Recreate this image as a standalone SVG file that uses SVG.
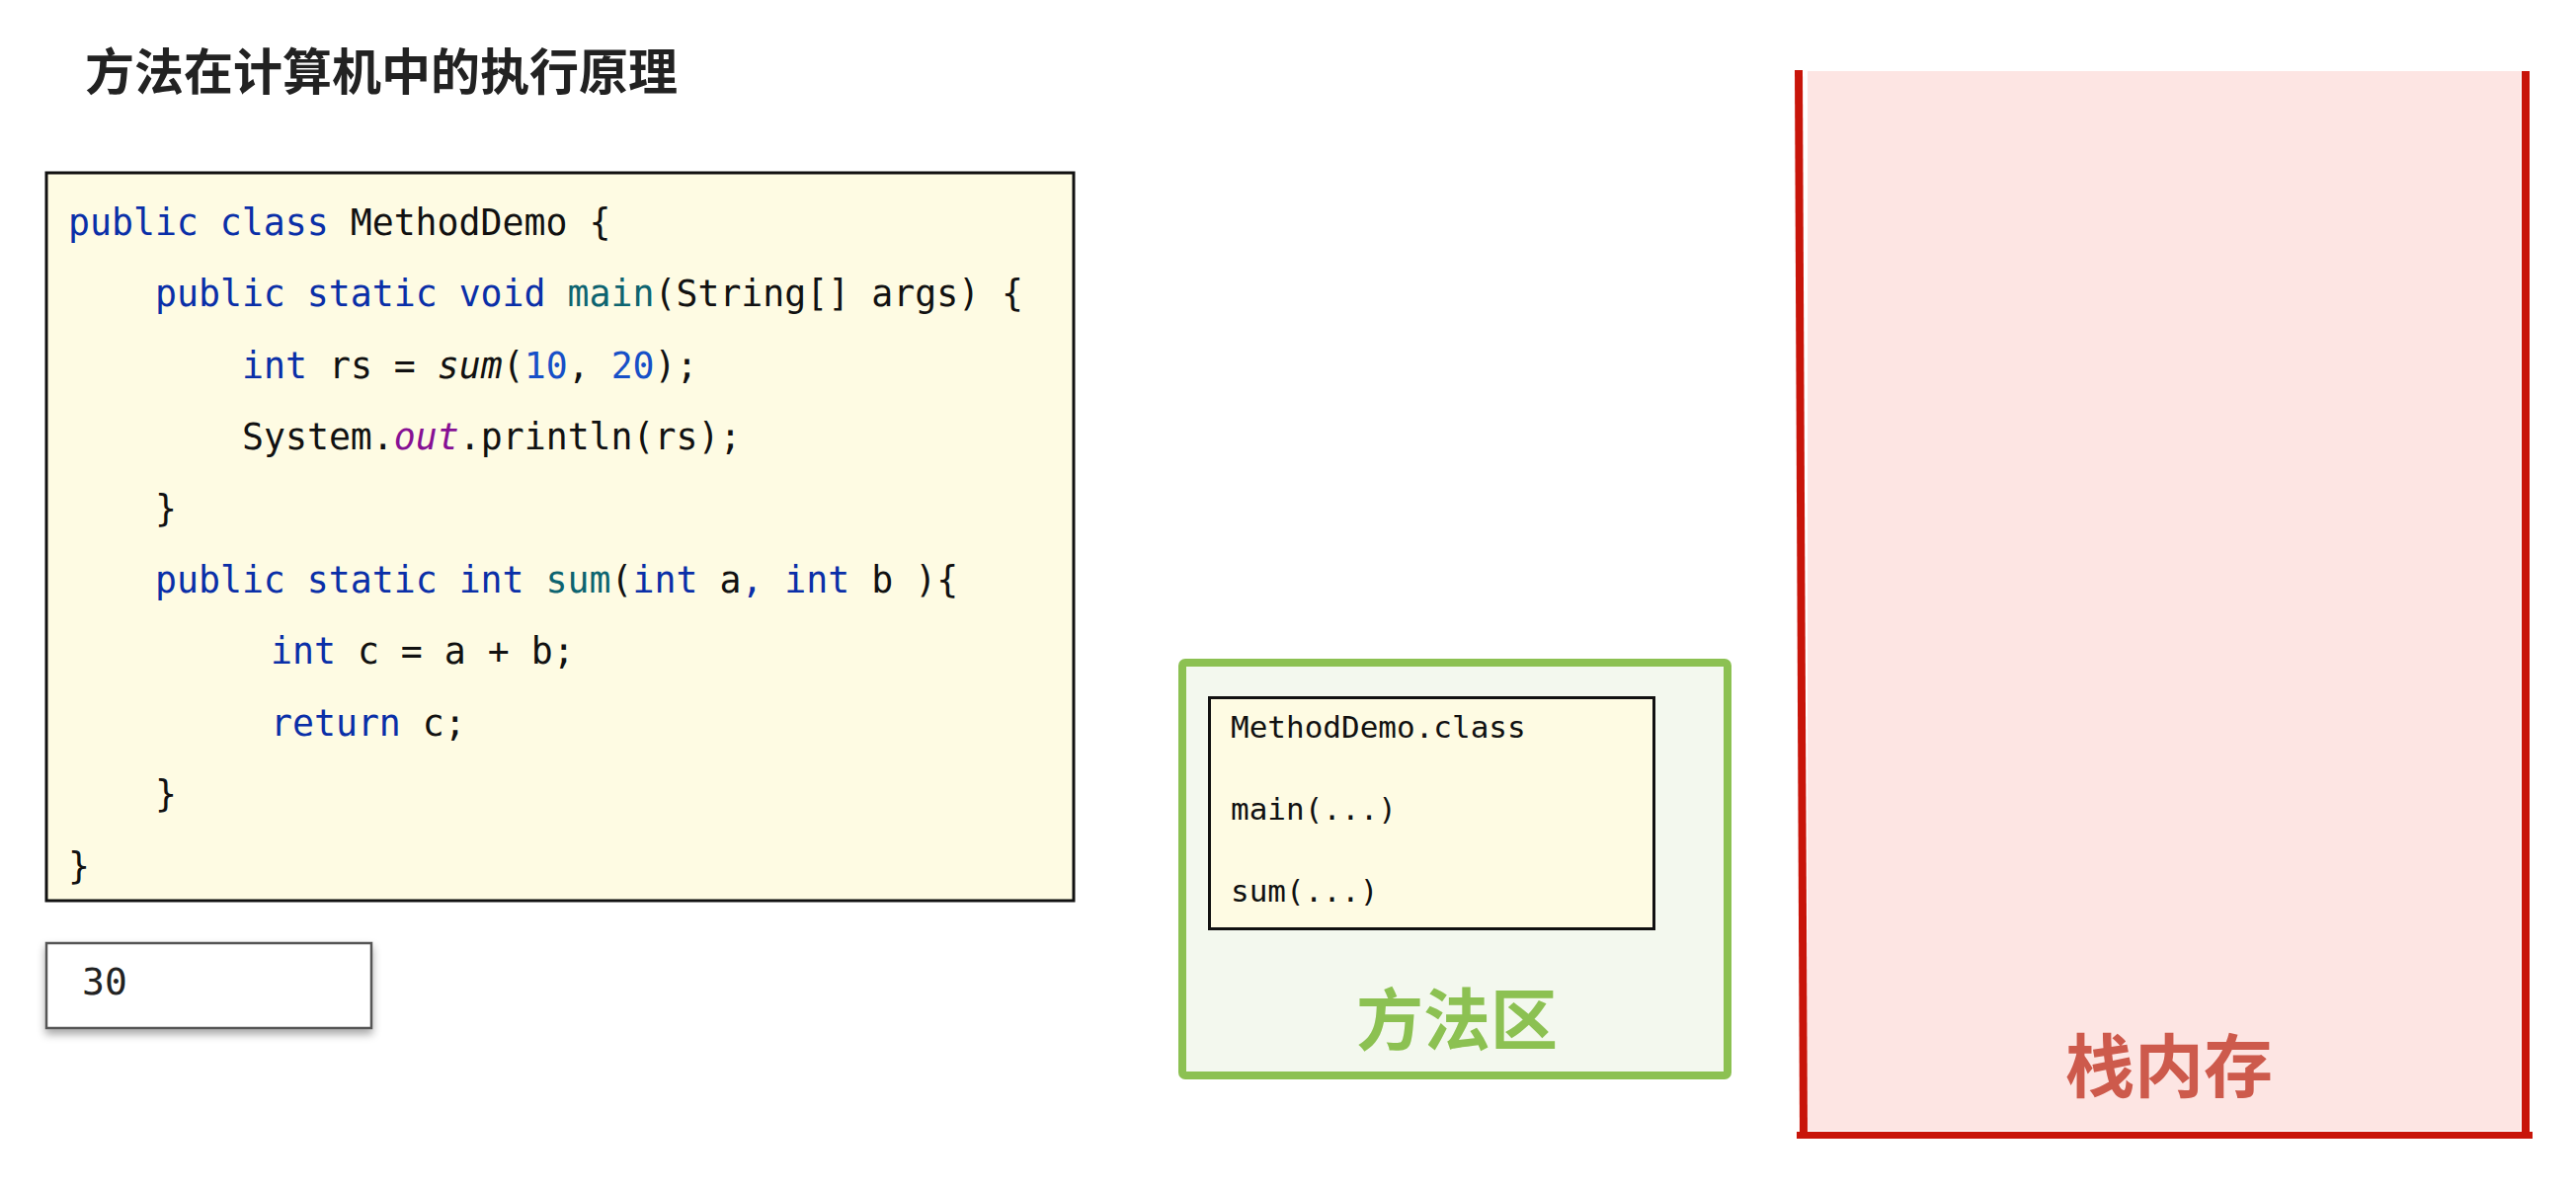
<svg xmlns="http://www.w3.org/2000/svg" width="2608" height="1206" viewBox="0 0 2608 1206">
<defs>
<style>
.code{font-family:"DejaVu Sans Mono","Liberation Mono",monospace;font-size:36.5px;fill:#111;}
.kw{fill:#0a2fa8;}
.fn{fill:#0d6470;}
.num{fill:#1750c8;}
.st{fill:#871094;font-style:italic;}
.it{font-style:italic;}
.mono{font-family:"DejaVu Sans Mono","Liberation Mono",monospace;font-size:31px;fill:#111;}
.cjk{font-family:"Noto Sans CJK SC","Noto Sans",sans-serif;font-weight:bold;}
</style>
<filter id="sh" x="-10%" y="-20%" width="120%" height="160%">
<feDropShadow dx="0" dy="5" stdDeviation="4" flood-color="#000" flood-opacity="0.35"/>
</filter>
</defs>
<rect width="2608" height="1206" fill="#ffffff"/>

<g id="title">
<text class="cjk" x="86" y="91" font-size="50" fill="#222">方法在计算机中的执行原理</text>
</g>

<g id="code">
<rect x="47" y="175" width="1040" height="737" fill="#fefbe3" stroke="#111" stroke-width="3"/>
<text class="code" x="69" y="238"><tspan class="kw">public class</tspan> MethodDemo {</text>
<text class="code" x="157" y="310"><tspan class="kw">public static void</tspan> <tspan class="fn">main</tspan>(String[] args) {</text>
<text class="code" x="245" y="383"><tspan class="kw">int</tspan> rs = <tspan class="it">sum</tspan>(<tspan class="num">10</tspan>, <tspan class="num">20</tspan>);</text>
<text class="code" x="245" y="455">System.<tspan class="st">out</tspan>.println(rs);</text>
<text class="code" x="157" y="528">}</text>
<text class="code" x="157" y="600"><tspan class="kw">public static int</tspan> <tspan class="fn">sum</tspan>(<tspan class="kw">int</tspan> a<tspan class="kw">,</tspan> <tspan class="kw">int</tspan> b ){</text>
<text class="code" x="274" y="672"><tspan class="kw">int</tspan> c = a + b;</text>
<text class="code" x="274" y="745"><tspan class="kw">return</tspan> c;</text>
<text class="code" x="157" y="817">}</text>
<text class="code" x="69" y="890">}</text>
</g>

<g id="output">
<rect x="47" y="955" width="329" height="86" fill="#ffffff" stroke="#555" stroke-width="2.5" filter="url(#sh)"/>
<text x="83" y="1007" font-family="DejaVu Sans Mono, monospace" font-size="38" fill="#222">30</text>
</g>

<g id="method-area">
<rect x="1197" y="671" width="552" height="418" rx="3" fill="#f3f8ee" stroke="#8cc152" stroke-width="8"/>
<rect x="1224.5" y="706.5" width="450" height="234" fill="#fefbe3" stroke="#111" stroke-width="3"/>
<text class="mono" x="1246" y="747">MethodDemo.class</text>
<text class="mono" x="1246" y="830">main(...)</text>
<text class="mono" x="1246" y="913">sum(...)</text>
<text class="cjk" x="1475" y="1058" font-size="68" fill="#8cc152" text-anchor="middle">方法区</text>
</g>

<g id="stack">
<rect x="1830" y="72" width="722" height="1073" fill="#fde5e3"/>
<line x1="1821" y1="71" x2="1826" y2="1150" stroke="#c8150a" stroke-width="8"/>
<line x1="2557" y1="72" x2="2557" y2="1150" stroke="#c8150a" stroke-width="8"/>
<line x1="1819" y1="1149.5" x2="2564" y2="1149.5" stroke="#c8150a" stroke-width="7"/>
<text class="cjk" x="2196" y="1106" font-size="70" fill="#cd5a4c" text-anchor="middle">栈内存</text>
</g>

<g id="connectors"></g>
</svg>
